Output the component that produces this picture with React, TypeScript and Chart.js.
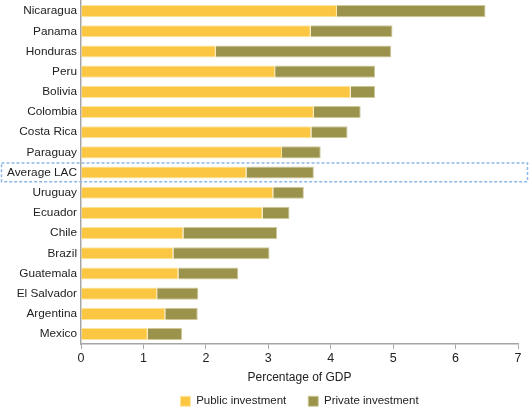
import React, { useEffect, useRef } from "react";
import { Chart, registerables } from "chart.js";

Chart.register(...registerables);

const categories = [
  "Nicaragua", "Panama", "Honduras", "Peru", "Bolivia", "Colombia", "Costa Rica",
  "Paraguay", "Average LAC", "Uruguay", "Ecuador", "Chile", "Brazil", "Guatemala",
  "El Salvador", "Argentina", "Mexico",
];
const publicInvestment = [4.1, 3.68, 2.16, 3.11, 4.32, 3.73, 3.69, 3.22, 2.65, 3.08, 2.91, 1.64, 1.48, 1.56, 1.22, 1.35, 1.07];
const privateInvestment = [2.38, 1.31, 2.81, 1.6, 0.39, 0.75, 0.58, 0.62, 1.08, 0.49, 0.43, 1.5, 1.54, 0.96, 0.66, 0.52, 0.55];
const xTicks = [0, 1, 2, 3, 4, 5, 6, 7];
const highlighted = "Average LAC";

const FONT = "'Liberation Sans', Arial, Helvetica, sans-serif";

const highlightPlugin = {
  id: "highlightBox",
  afterDraw(chart: any) {
    const y = chart.scales.y;
    const idx = categories.indexOf(highlighted);
    if (idx < 0) return;
    const cy = y.getPixelForValue(idx);
    const step = (y.bottom - y.top) / categories.length;
    const ctx = chart.ctx;
    ctx.save();
    ctx.strokeStyle = "#8db8e6";
    ctx.lineWidth = 1.5;
    ctx.setLineDash([3, 2]);
    ctx.strokeRect(1.5, cy - step / 2 + 0.5, chart.width - 4, step - 1.5);
    ctx.restore();
  },
};

export default function App() {
  const ref = useRef<HTMLCanvasElement>(null);
  useEffect(() => {
    document.body.style.margin = "0";
    const chart = new Chart(ref.current!, {
      type: "bar",
      data: {
        labels: categories,
        datasets: [
          {
            label: "Public investment",
            data: publicInvestment,
            backgroundColor: "#fbc641",
            borderColor: "#fde6a0",
            borderWidth: 1,
            barPercentage: 0.6,
            categoryPercentage: 1,
          },
          {
            label: "Private investment",
            data: privateInvestment,
            backgroundColor: "#9b924c",
            borderColor: "#cfc99a",
            borderWidth: 1,
            barPercentage: 0.6,
            categoryPercentage: 1,
          },
        ],
      },
      options: {
        indexAxis: "y",
        animation: false,
        responsive: false,
        maintainAspectRatio: false,
        layout: { padding: { top: 1, right: 12, bottom: -9, left: 0 } },
        scales: {
          x: {
            stacked: true,
            min: 0,
            max: 7,
            afterBuildTicks(axis: any) {
              axis.ticks = xTicks.map((v) => ({ value: v }));
            },
            grid: {
              display: true,
              drawOnChartArea: false,
              drawTicks: true,
              tickLength: 5,
              color: "#a6a6a6",
            },
            border: { display: true, color: "#a6a6a6", width: 1.5 },
            ticks: {
              color: "#222",
              font: { family: FONT, size: 12.5 },
              padding: 2,
            },
            title: {
              display: true,
              text: "Percentage of GDP",
              color: "#222",
              font: { family: FONT, size: 12 },
              padding: { top: 2, bottom: -11 },
            },
          },
          y: {
            stacked: true,
            grid: { display: false, drawTicks: false },
            border: { display: true, color: "#a6a6a6", width: 1.5 },
            afterFit(axis: any) {
              axis.width = 81;
              axis.paddingTop = 0;
              axis.paddingBottom = 0;
            },
            ticks: {
              color: "#222",
              font: { family: FONT, size: 11.8 },
              padding: 4,
              autoSkip: false,
            },
          },
        },
        plugins: {
          legend: {
            position: "bottom",
            fullSize: false,
            labels: {
              boxWidth: 10,
              boxHeight: 10,
              color: "#222",
              font: { family: FONT, size: 11.5 },
              padding: 22,
              useBorderRadius: false,
            },
          },
          tooltip: { enabled: false },
        },
      },
      plugins: [highlightPlugin],
    } as any);
    return () => chart.destroy();
  }, []);
  return (
    <div style={{ width: 530, height: 408 }}>
      <canvas ref={ref} width={530} height={408} style={{ display: "block" }} />
    </div>
  );
}
